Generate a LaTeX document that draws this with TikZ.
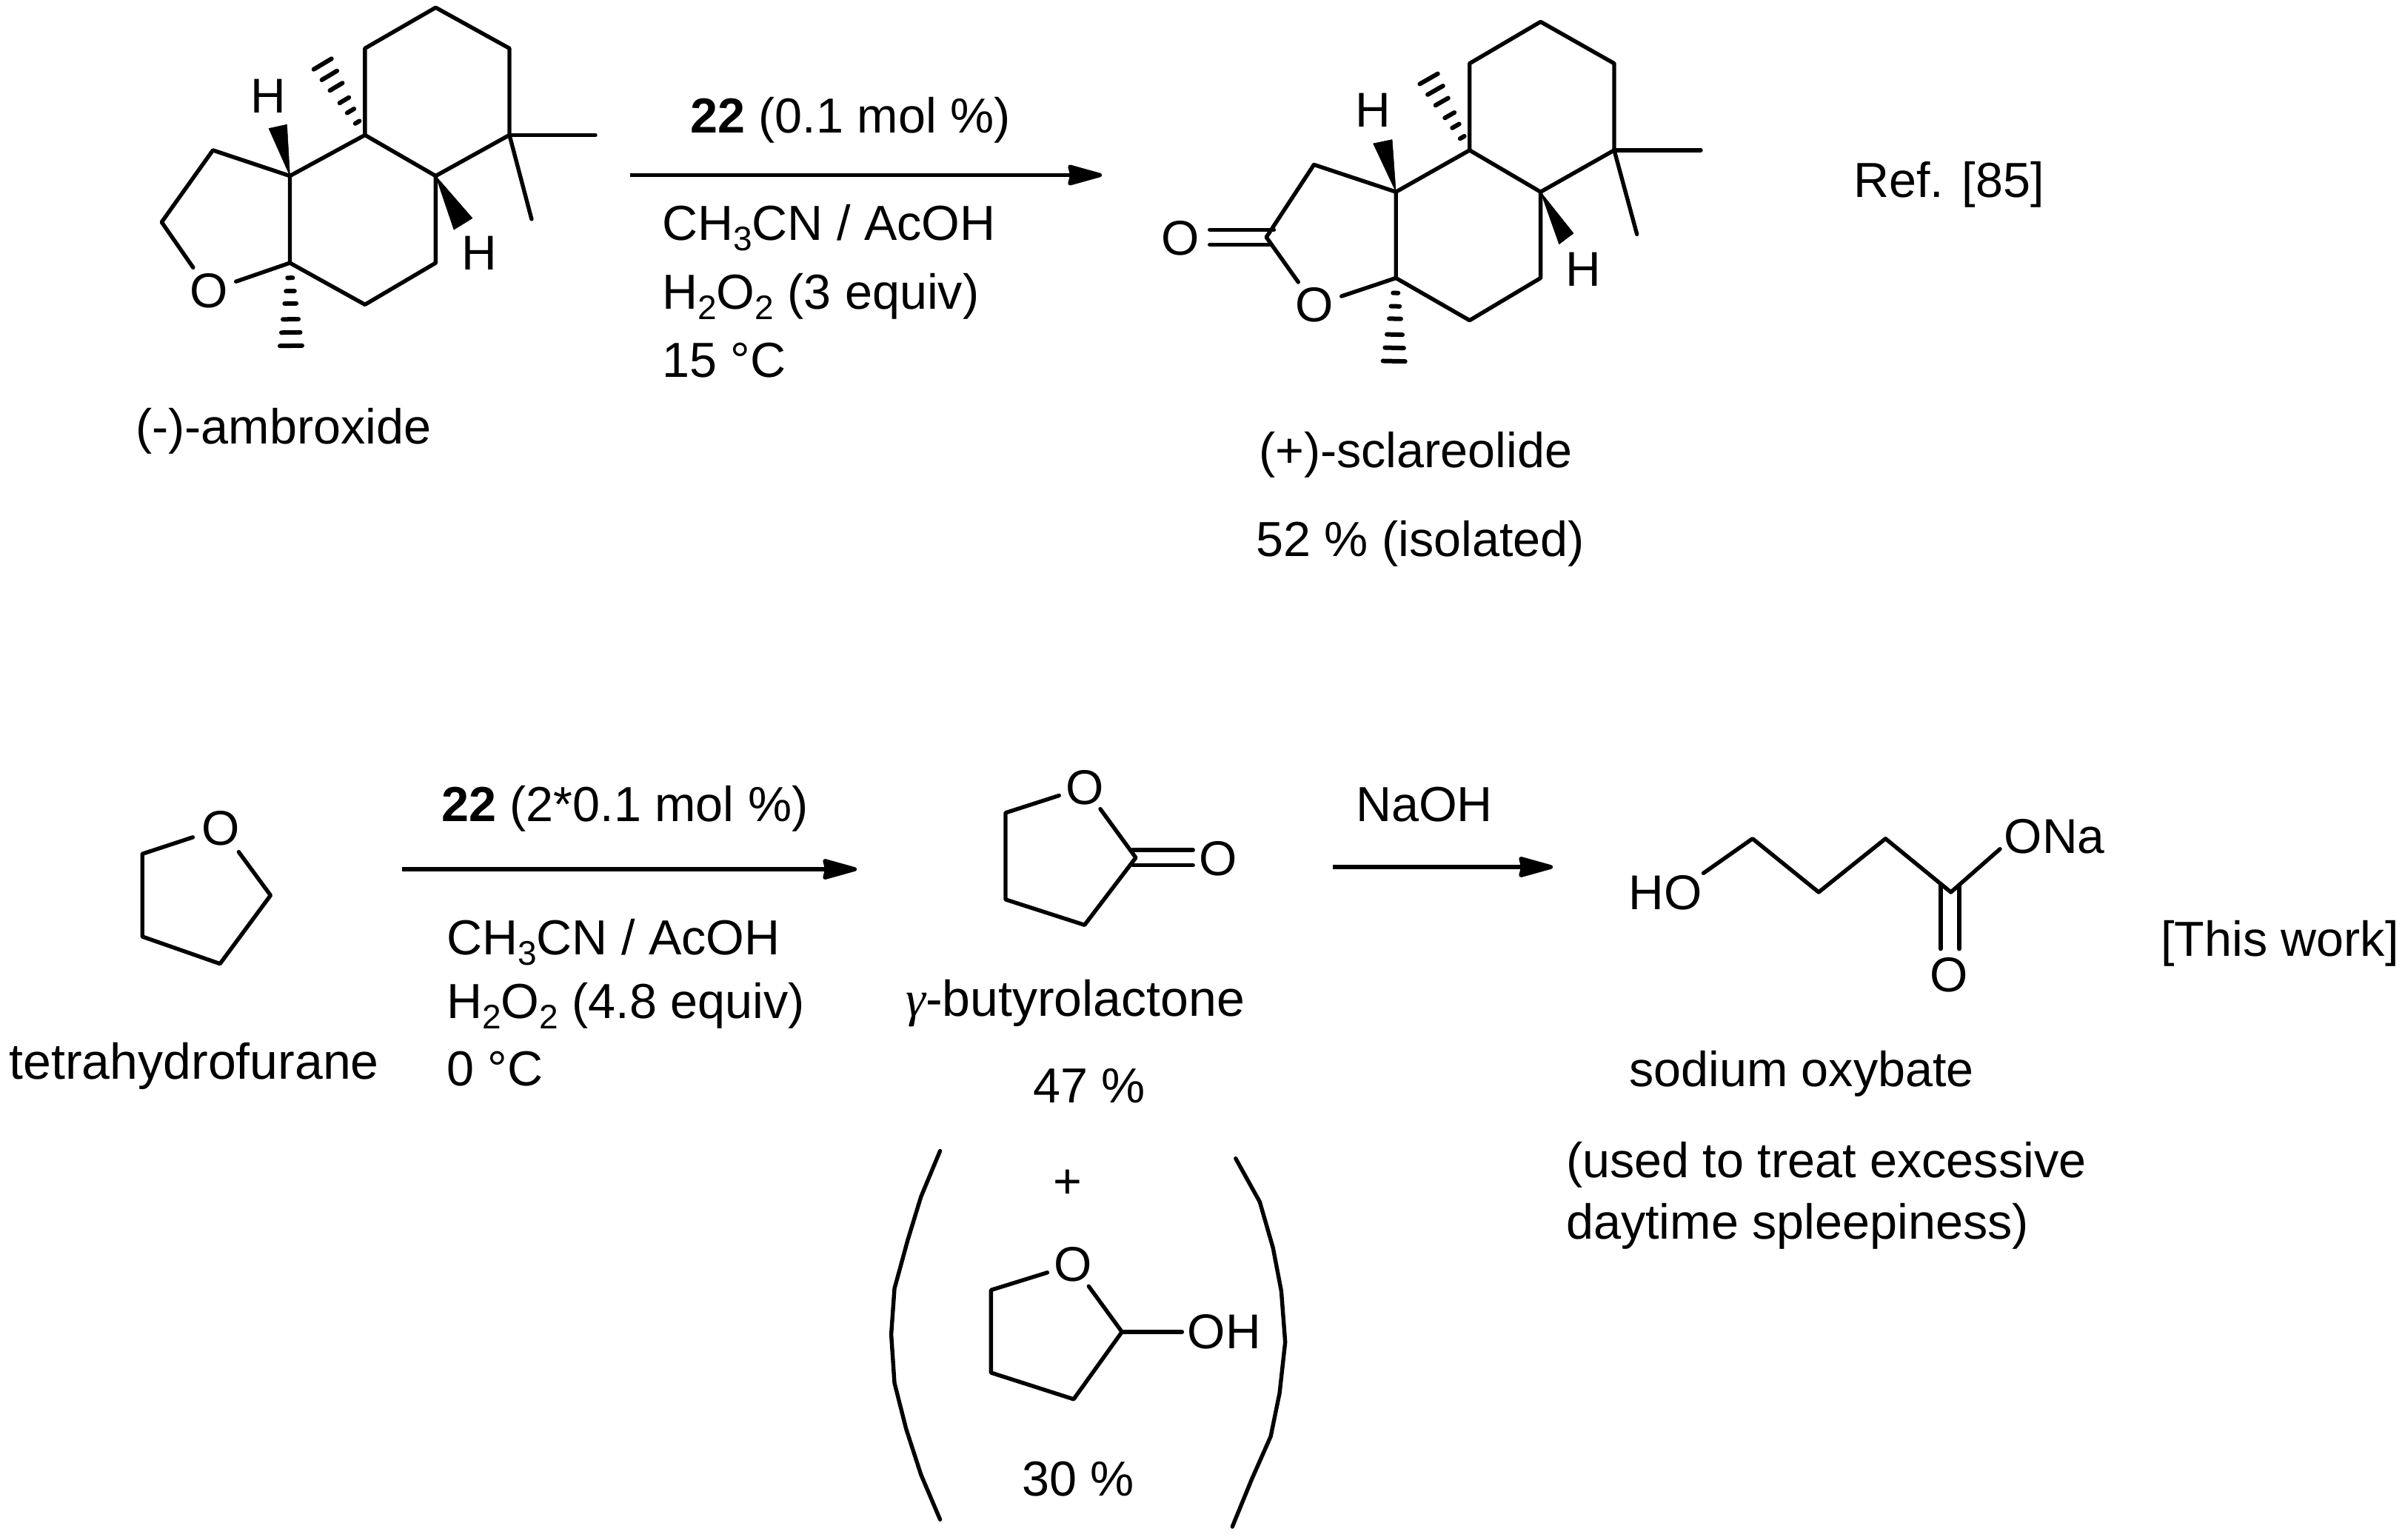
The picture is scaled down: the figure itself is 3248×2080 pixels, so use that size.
\documentclass[tikz,border=0pt]{standalone}
\usepackage{fontspec}
\setmainfont{Liberation Sans}
\newfontfamily\greekserif{Liberation Serif}
\usetikzlibrary{calc,arrows.meta}
\newcommand{\chsub}[1]{\raisebox{-14pt}{\fontsize{46}{46}\selectfont #1}}
\newcommand{\hashbond}[3]{%
  \foreach \t in {0.18,0.34,0.49,0.68,0.84,1.0}{%
    \coordinate (hp) at ($(#1)!\t!(#2)$);
    \pgfmathsetmacro{\w}{#3*\t+1}
    \draw[hashbar] ($(hp)!\w pt!90:(#1)$) -- ($(hp)!\w pt!-90:(#1)$);
  }}
\tikzset{
  bond/.style={line width=5.4pt,line cap=round,line join=round},
  hashbar/.style={line width=6pt,line cap=round},
  wedge/.style={fill=black,draw=black,line width=0.5pt,line join=round},
  rxn/.style={line width=5.6pt,-{Stealth[length=54pt,width=29pt,inset=3pt,round]}},
  txt/.style={anchor=base west,inner sep=0pt,font=\fontsize{66.5}{70}\selectfont},
  atom/.style={circle,inner sep=0pt,minimum size=76pt,font=\fontsize{66}{70}\selectfont},
  atomtxt/.style={inner sep=0pt,font=\fontsize{66}{70}\selectfont},
  paren/.style={line width=5.4pt,line cap=round,line join=round}
}
\begin{document}
\begin{tikzpicture}[x=1pt,y=-1pt]
\path[fill=white,use as bounding box] (0,0) rectangle (3248,2080);

% ---------- (-)-ambroxide
\coordinate (a1) at (588.4,10.2);
\coordinate (a2) at (688,65.3);
\coordinate (a3) at (688,182.4);
\coordinate (a4) at (588.4,237.6);
\coordinate (a5) at (492.9,182.4);
\coordinate (a6) at (492.9,65.3);
\coordinate (a7) at (391.5,237.6);
\coordinate (a8) at (391.5,355.1);
\coordinate (a9) at (492.9,411.4);
\coordinate (a10) at (588.4,355.1);
\coordinate (a11) at (287.5,202.9);
\coordinate (a12) at (218.3,300);
\node[atom] (aO) at (282.6,392.7) {O};
\coordinate (aMe1) at (804,182.4);
\coordinate (aMe2) at (717.9,295.9);
\coordinate (aMe3) at (435.7,86.5);
\coordinate (aMe4) at (393,467);
\coordinate (aw1) at (363,173.5);
\coordinate (aw2) at (387.5,168.2);
\coordinate (aw3) at (638,294.7);
\coordinate (aw4) at (613,310.2);
\node[atomtxt] (aH1) at (362,130) {H};
\node[atomtxt] (aH2) at (646.9,342) {H};
\draw[bond] (a5) -- (a6) -- (a1) -- (a2) -- (a3) -- (a4) -- (a5) -- (a7) -- (a8) -- (a9) -- (a10) -- (a4);
\draw[bond] (a7) -- (a11) -- (a12) -- (aO) -- (a8);
\draw[bond] (a3) -- (aMe1);
\draw[bond] (a3) -- (aMe2);
\fill[wedge] (a7) -- (aw1) -- (aw2) -- cycle;
\fill[wedge] (a4) -- (aw3) -- (aw4) -- cycle;
\hashbond{a5}{aMe3}{13}
\hashbond{a8}{aMe4}{14}
\node[txt] (aName) at (183,599) {(-)-ambroxide};

% ---------- arrow 1
\coordinate (r1s) at (851,236.5);
\coordinate (r1e) at (1488,236.5);
\draw[rxn] (r1s) -- (r1e);
\node[txt] (r1a) at (932,179) {\textbf{22} (0.1 mol \%)};
\node[txt] (r1b) at (894,324) {CH\chsub{3}CN / AcOH};
\node[txt] (r1c) at (894,417) {H\chsub{2}O\chsub{2} (3 equiv)};
\node[txt] (r1d) at (894,509) {15 °C};

% ---------- (+)-sclareolide
\coordinate (s1) at (2080.6,29.4);
\coordinate (s2) at (2180,85.7);
\coordinate (s3) at (2180,202.9);
\coordinate (s4) at (2080.6,259.2);
\coordinate (s5) at (1984.7,202.9);
\coordinate (s6) at (1984.7,85.7);
\coordinate (s7) at (1885.2,259.2);
\coordinate (s8) at (1885.2,375.5);
\coordinate (s9) at (1984.7,432.7);
\coordinate (s10) at (2080.6,375.5);
\coordinate (s11) at (1774.5,222.4);
\coordinate (s12) at (1710.2,320.4);
\node[atom] (sO) at (1775.5,412.2) {O};
\node[atomtxt] (sO2) at (1594.4,321.6) {O};
\coordinate (sd1) at (1633.7,310.2);
\coordinate (sd2) at (1720.4,310.2);
\coordinate (sd3) at (1633.7,330.6);
\coordinate (sd4) at (1716.8,330.6);
\coordinate (sMe1) at (2297,202.9);
\coordinate (sMe2) at (2210.7,316.3);
\coordinate (sMe3) at (1929.6,106.5);
\coordinate (sMe4) at (1882.7,487.8);
\coordinate (sw1) at (1854.6,193.9);
\coordinate (sw2) at (1880.1,188.6);
\coordinate (sw3) at (2125,315.1);
\coordinate (sw4) at (2105.6,329.8);
\node[atomtxt] (sH1) at (1854.6,149) {H};
\node[atomtxt] (sH2) at (2138.8,363.3) {H};
\draw[bond] (s5) -- (s6) -- (s1) -- (s2) -- (s3) -- (s4) -- (s5) -- (s7) -- (s8) -- (s9) -- (s10) -- (s4);
\draw[bond] (s7) -- (s11) -- (s12) -- (sO) -- (s8);
\draw[bond] (sd1) -- (sd2);
\draw[bond] (sd3) -- (sd4);
\draw[bond] (s3) -- (sMe1);
\draw[bond] (s3) -- (sMe2);
\fill[wedge] (s7) -- (sw1) -- (sw2) -- cycle;
\fill[wedge] (s4) -- (sw3) -- (sw4) -- cycle;
\hashbond{s5}{sMe3}{13}
\hashbond{s8}{sMe4}{14}
\node[txt] (sName) at (1700,631) {(+)-sclareolide};
\node[txt] (sYield) at (1696,751) {52 \% (isolated)};
\node[txt] (ref) at (2503,266) {Ref. [85]};

% ---------- THF
\coordinate (t1) at (192.2,1153.3);
\coordinate (t2) at (192.2,1265);
\coordinate (t3) at (297.1,1301.7);
\coordinate (t4) at (365.4,1209.3);
\node[atom,minimum size=80pt] (tO) at (298.6,1118.3) {O};
\draw[bond] (tO) -- (t1) -- (t2) -- (t3) -- (t4) -- (tO);
\node[txt,font=\fontsize{68}{70}\selectfont] (tName) at (12.5,1457) {tetrahydrofurane};

% ---------- arrow 2
\coordinate (r2s) at (543,1174);
\coordinate (r2e) at (1157,1174);
\draw[rxn] (r2s) -- (r2e);
\node[txt] (r2a) at (596,1109) {\textbf{22} (2*0.1 mol \%)};
\node[txt] (r2b) at (603,1289) {CH\chsub{3}CN / AcOH};
\node[txt] (r2c) at (603,1375) {H\chsub{2}O\chsub{2} (4.8 equiv)};
\node[txt] (r2d) at (603,1466) {0 °C};

% ---------- gamma-butyrolactone
\coordinate (b1) at (1358,1097.8);
\coordinate (b2) at (1358,1214.9);
\coordinate (b3) at (1464.7,1249.3);
\coordinate (b4) at (1533.9,1158.4);
\coordinate (bd1) at (1529.5,1148);
\coordinate (bd2) at (1611.2,1148);
\coordinate (bd3) at (1529.5,1168.7);
\coordinate (bd4) at (1611.2,1168.7);
\node[atom,minimum size=72pt] (bO) at (1464.7,1063.4) {O};
\node[atomtxt] (bO2) at (1645.5,1159.8) {O};
\draw[bond] (bO) -- (b1) -- (b2) -- (b3) -- (b4) -- (bO);
\draw[bond] (bd1) -- (bd2);
\draw[bond] (bd3) -- (bd4);
\node[txt,font=\fontsize{68}{70}\selectfont] (bName) at (1223,1372) {{\greekserif\itshape γ}-butyrolactone};
\node[txt] (bYield) at (1395,1489) {47 \%};
\node[txt,anchor=center] (plus) at (1442.4,1599) {+};

% ---------- lactol in parentheses
\coordinate (l1) at (1338.4,1742.4);
\coordinate (l2) at (1338.4,1854);
\coordinate (l3) at (1450,1889.8);
\coordinate (l4) at (1515.2,1798.9);
\coordinate (lOHe) at (1596.4,1798.9);
\node[atom,minimum size=72pt] (lO) at (1449,1708) {O};
\node[atomtxt] (lOH) at (1653.3,1798.9) {OH};
\draw[bond] (lO) -- (l1) -- (l2) -- (l3) -- (l4) -- (lO);
\draw[bond] (l4) -- (lOHe);
\node[txt] (lYield) at (1380,2020.7) {30 \%};
\draw[paren] (1269.6,1554.4) -- (1243.8,1616.4) -- (1225.9,1674.9) -- (1208,1740.4) -- (1203.6,1802.3) -- (1208,1867.8) -- (1223.7,1929.8) -- (1243.8,1991.7) -- (1269.6,2052.3);
\draw[paren] (1668.8,1564.7) -- (1701.3,1623.3) -- (1719.2,1685.3) -- (1730.4,1743.8) -- (1735.7,1812.7) -- (1728.1,1881.5) -- (1716.1,1940.1) -- (1690.2,1998.6) -- (1664.3,2062);

% ---------- arrow 3
\coordinate (r3s) at (1800,1171);
\coordinate (r3e) at (2097,1171);
\draw[rxn] (r3s) -- (r3e);
\node[txt] (r3a) at (1831,1109) {NaOH};

% ---------- sodium oxybate
\node[atomtxt] (oHO) at (2249,1206) {HO};
\node[atomtxt] (oONa) at (2774.8,1130) {ONa};
\node[atomtxt] (oO) at (2632,1316.7) {O};
\coordinate (o0) at (2300.5,1179.3);
\coordinate (o1) at (2366.8,1132.7);
\coordinate (o2) at (2456.1,1205);
\coordinate (o3) at (2546.4,1132.7);
\coordinate (o4) at (2634.7,1205);
\coordinate (o5) at (2701,1146.7);
\coordinate (od1) at (2621,1195);
\coordinate (od2) at (2621,1281.7);
\coordinate (od3) at (2646,1196.7);
\coordinate (od4) at (2646,1281.7);
\draw[bond] (o0) -- (o1) -- (o2) -- (o3) -- (o4) -- (o5);
\draw[bond] (od1) -- (od2);
\draw[bond] (od3) -- (od4);
\node[txt] (oName) at (2200,1467) {sodium oxybate};
\node[txt] (oUse1) at (2115,1590) {(used to treat excessive};
\node[txt] (oUse2) at (2115,1673) {daytime spleepiness)};
\node[txt] (work) at (2918,1291) {[This work]};
\end{tikzpicture}
\end{document}
